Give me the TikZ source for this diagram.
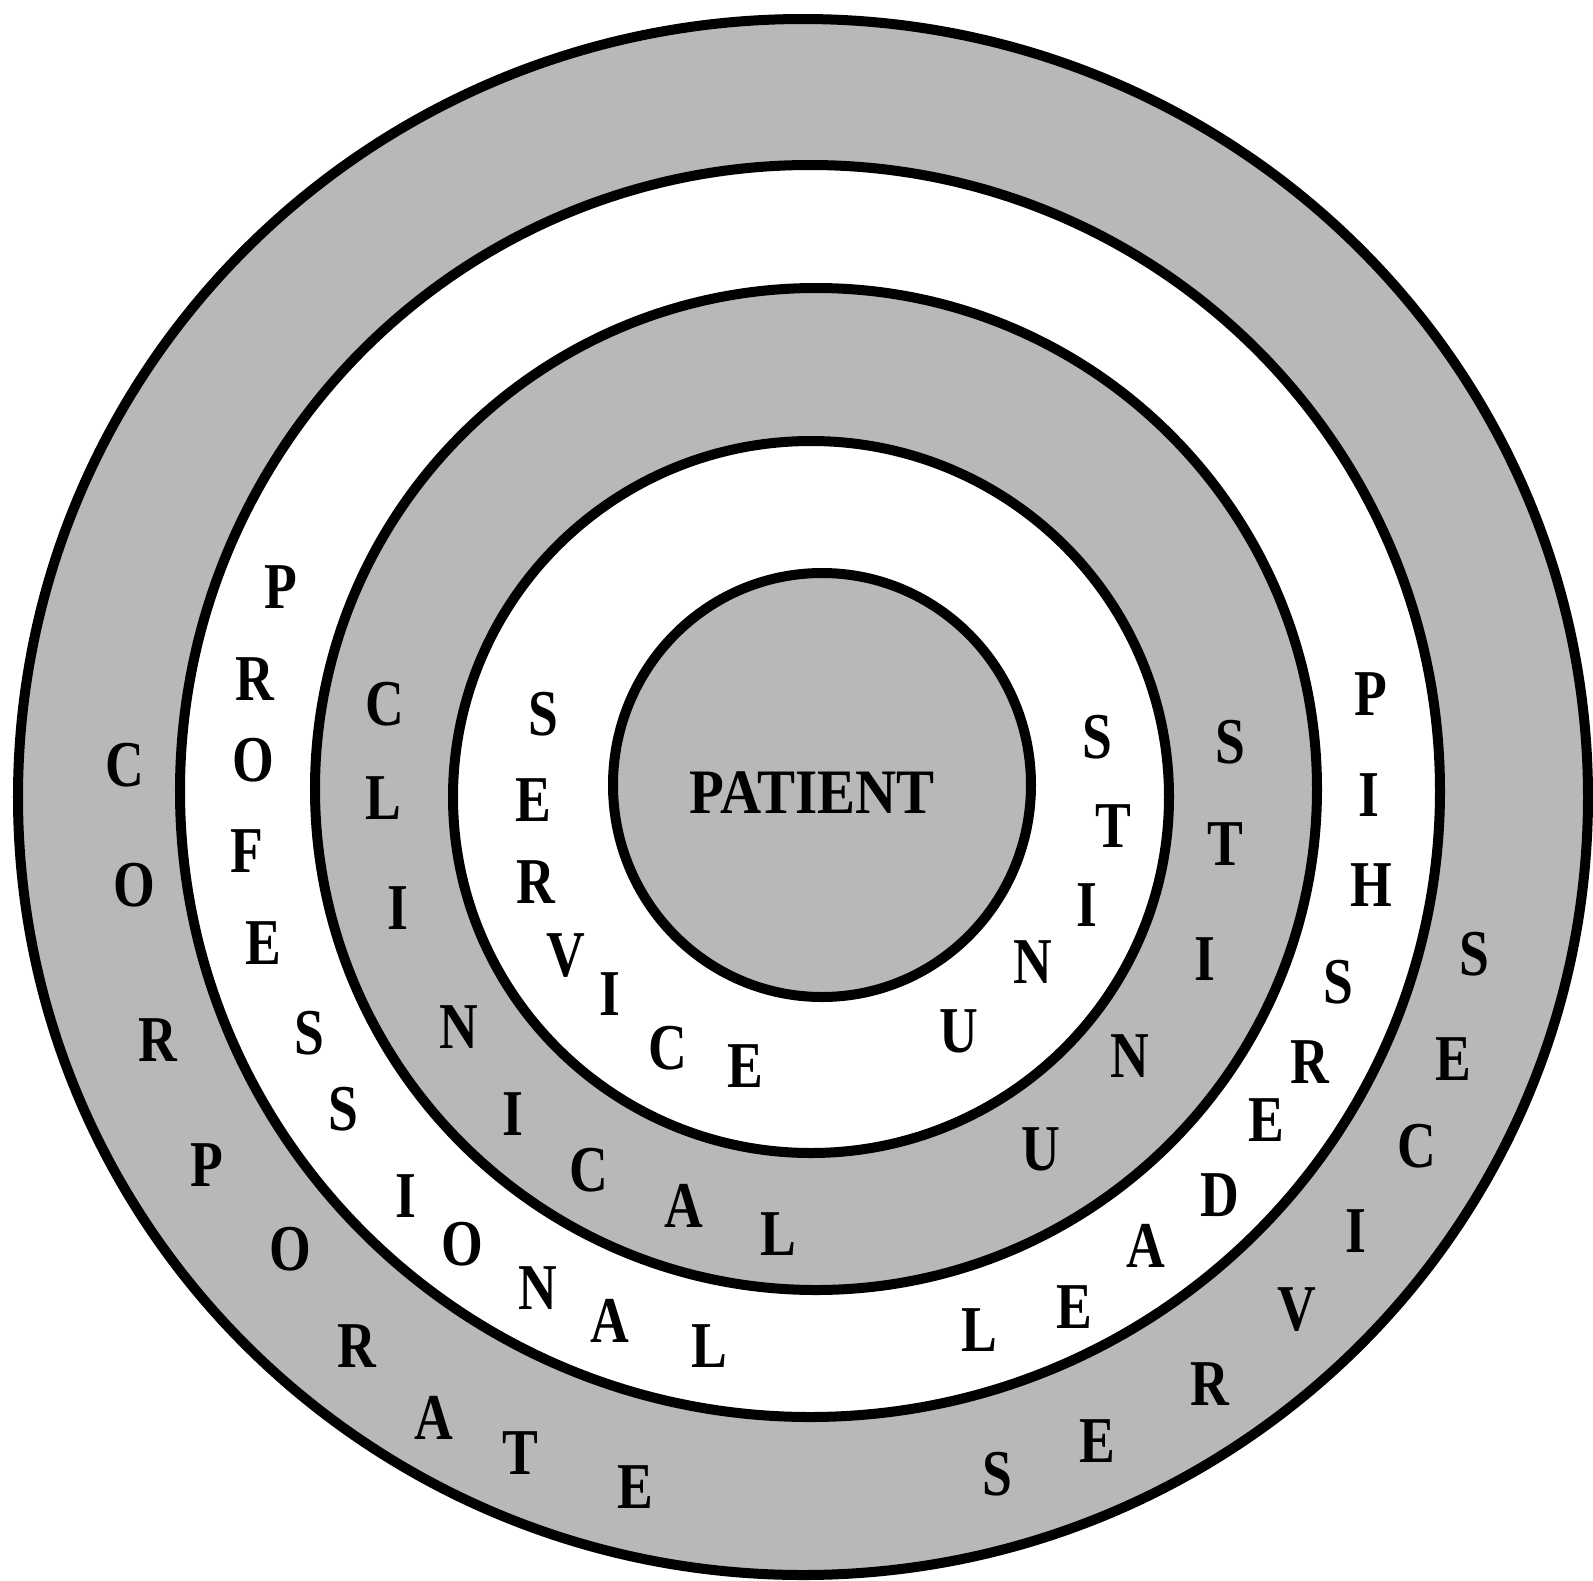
\documentclass[tikz,border=0pt]{standalone}
\usepackage{fontspec}
\setmainfont{Liberation Serif}
\usepackage{graphicx}
\definecolor{ringgray}{gray}{0.72}
\newcommand{\ringletter}[1]{\scalebox{0.82}[1]{\fontsize{18.6}{20}\selectfont\bfseries #1}}
\begin{document}
\begin{tikzpicture}[x=0.01cm,y=-0.01cm,
  ringline/.style={line width=0.1cm,draw=black},
  lt/.style={inner sep=0pt,anchor=center,text=black,font=\bfseries},
]
\useasboundingbox (0,0) rectangle (1593,1581);
% rings
\draw[ringline,fill=ringgray] (803,797) ellipse [x radius=785, y radius=778];
\draw[ringline,fill=white] (810,791) ellipse [x radius=630, y radius=626];
\draw[ringline,fill=ringgray] (816,789) ellipse [x radius=501, y radius=501];
\draw[ringline,fill=white] (811,797) ellipse [x radius=358, y radius=356];
\draw[ringline,fill=ringgray] (822,785) ellipse [x radius=209, y radius=212];
% centre
\node[lt] (patient) at (812,793) {\scalebox{0.9}[1]{\fontsize{18}{20}\selectfont\bfseries PATIENT}};
% CORPORATE SERVICES
\foreach \px/\py/\t [count=\i] in {125/765/C,134/885/O,158/1040/R,207/1165/P,290/1249/O,357/1346/R,434/1418/A,520/1453/T,635/1487/E,997/1474/S,1097/1441/E,1210/1384/R,1297/1310/V,1356/1231/I,1417/1146/C,1453/1059/E,1474/954/S}
  \node[lt] (corp\i) at (\px,\py) {\ringletter{\t}};
% PROFESSIONAL LEADERSHIP
\foreach \px/\py/\t [count=\i] in {281/587/P,255/679/R,253/760/O,247/851/F,263/943/E,309/1033/S,343/1109/S,406/1196/I,462/1244/O,538/1288/N,610/1321/A,709/1346/L,979/1330/L,1074/1307/E,1146/1246/A,1220/1195/D,1266/1120/E,1310/1062/R,1338/982/S,1371/885/H,1369/795/I,1371/694/P}
  \node[lt] (prof\i) at (\px,\py) {\ringletter{\t}};
% CLINICAL UNITS
\foreach \px/\py/\t [count=\i] in {385/704/C,383/798/L,398/908/I,459/1027/N,513/1114/I,589/1170/C,684/1206/A,778/1234/L,1041/1149/U,1130/1056/N,1205/959/I,1225/844/T,1230/742/S}
  \node[lt] (clin\i) at (\px,\py) {\ringletter{\t}};
% SERVICE UNITS
\foreach \px/\py/\t [count=\i] in {543/714/S,533/800/E,536/882/R,566/956/V,610/994/I,668/1048/C,745/1066/E,959/1031/U,1033/962/N,1087/905/I,1113/826/T,1097/737/S}
  \node[lt] (serv\i) at (\px,\py) {\ringletter{\t}};
\end{tikzpicture}
\end{document}
